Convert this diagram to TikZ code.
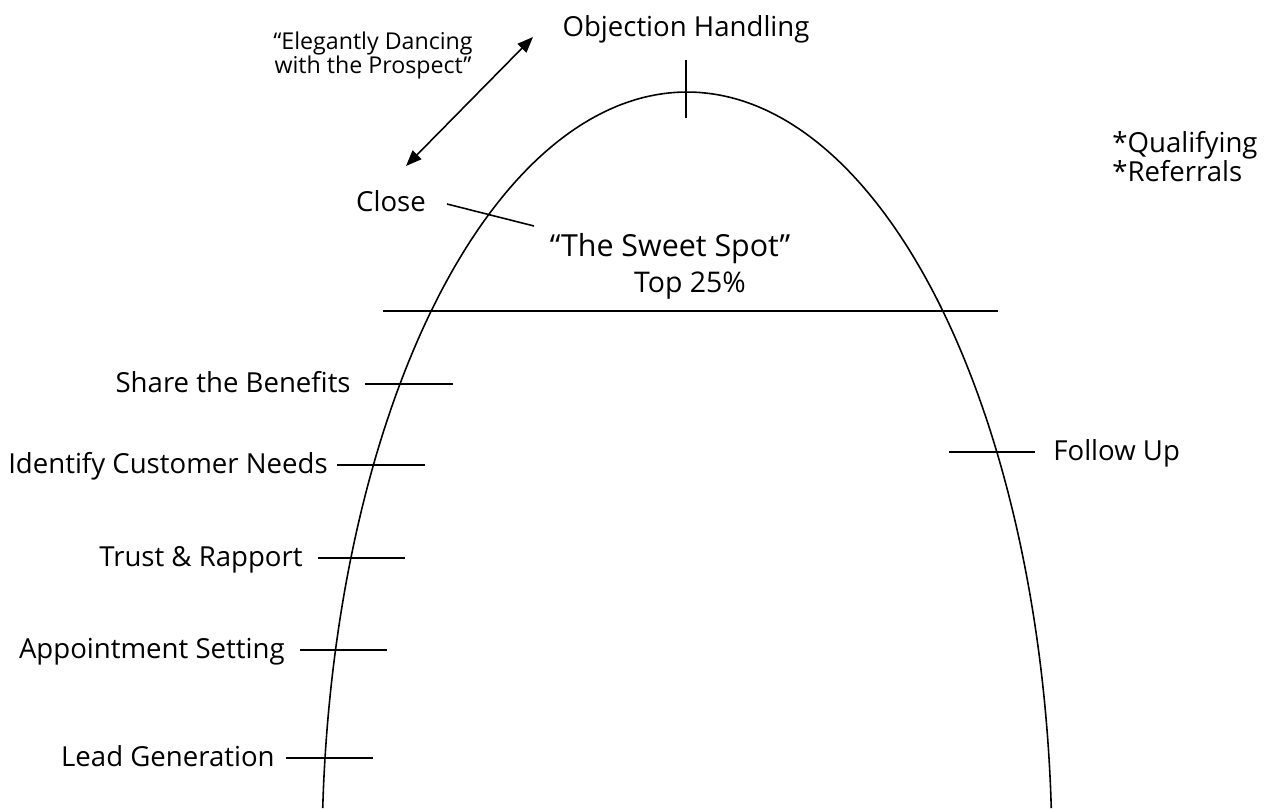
\documentclass[tikz,border=0pt]{standalone}
\usepackage{fontspec}
\setmainfont{Open Sans}
\usetikzlibrary{arrows.meta}
\tikzstyle{stage} = [inner sep=0pt, font=\fontsize{15.7}{16.5}\selectfont]
\tikzstyle{quote} = [inner sep=0pt, align=center, font=\fontsize{13.2}{13.2}\selectfont]
\tikzstyle{spot} = [inner sep=0pt, font=\fontsize{17.3}{19}\selectfont]
\tikzstyle{tick} = [line width=0.9pt]
\tikzstyle{arrow} = [line width=0.9pt, {Triangle[length=9pt,width=7pt]}-{Triangle[length=9pt,width=7pt]}]

\begin{document}
\begin{tikzpicture}[x=0.02cm, y=-0.02cm]
        \useasboundingbox (0,0) rectangle (1264,808);
        % the hill
        \draw [line width=0.9pt] plot [domain=3.57:176.43, samples=120, smooth] ({687+365*cos(\x)}, {855.6-763.6*sin(\x)});
        \draw [tick] (383,311) coordinate (lineL) -- (998,311) coordinate (lineR);
        % top of the hill
        \node (obj) [stage, anchor=base] at (686,36) {Objection Handling};
        \coordinate (objA) at (686,60);
        \coordinate (objB) at (686,118);
        \draw [tick] (objA) -- (objB);
        \node (dance) [quote, anchor=base] at (373,73) {``Elegantly Dancing\\with the Prospect''};
        \coordinate (danceA) at (406,166);
        \coordinate (danceB) at (533,37);
        \draw [arrow] (danceA) -- (danceB);
        \node (close) [stage, anchor=base] at (391,211) {Close};
        \coordinate (closeA) at (447,204);
        \coordinate (closeB) at (534,226);
        \draw [tick] (closeA) -- (closeB);
        \node (sweet) [spot, anchor=base] at (670,256) {``The Sweet Spot''};
        \node (top) [spot, anchor=base, font=\fontsize{16.2}{19}\selectfont] at (690,292) {Top 25\%};
        \node (qual) [stage, anchor=north west, align=left] at (1112,131) {*Qualifying\\*Referrals};
        % left side
        \node (share) [stage, anchor=base east] at (351,392) {Share the Benefits};
        \coordinate (shareA) at (365,384);
        \coordinate (shareB) at (453,384);
        \draw [tick] (shareA) -- (shareB);
        \node (needs) [stage, anchor=base east] at (328,473) {Identify Customer Needs};
        \coordinate (needsA) at (337,465);
        \coordinate (needsB) at (425,465);
        \draw [tick] (needsA) -- (needsB);
        \node (trust) [stage, anchor=base east] at (303,566) {Trust \& Rapport};
        \coordinate (trustA) at (318,558);
        \coordinate (trustB) at (405,558);
        \draw [tick] (trustA) -- (trustB);
        \node (appt) [stage, anchor=base east] at (285,658) {Appointment Setting};
        \coordinate (apptA) at (300,650);
        \coordinate (apptB) at (387,650);
        \draw [tick] (apptA) -- (apptB);
        \node (lead) [stage, anchor=base east] at (275,766) {Lead Generation};
        \coordinate (leadA) at (286,758);
        \coordinate (leadB) at (373,758);
        \draw [tick] (leadA) -- (leadB);
        % right side
        \node (follow) [stage, anchor=base west] at (1053,460) {Follow Up};
        \coordinate (followA) at (949,452);
        \coordinate (followB) at (1035,452);
        \draw [tick] (followA) -- (followB);
    \end{tikzpicture}
\end{document}
